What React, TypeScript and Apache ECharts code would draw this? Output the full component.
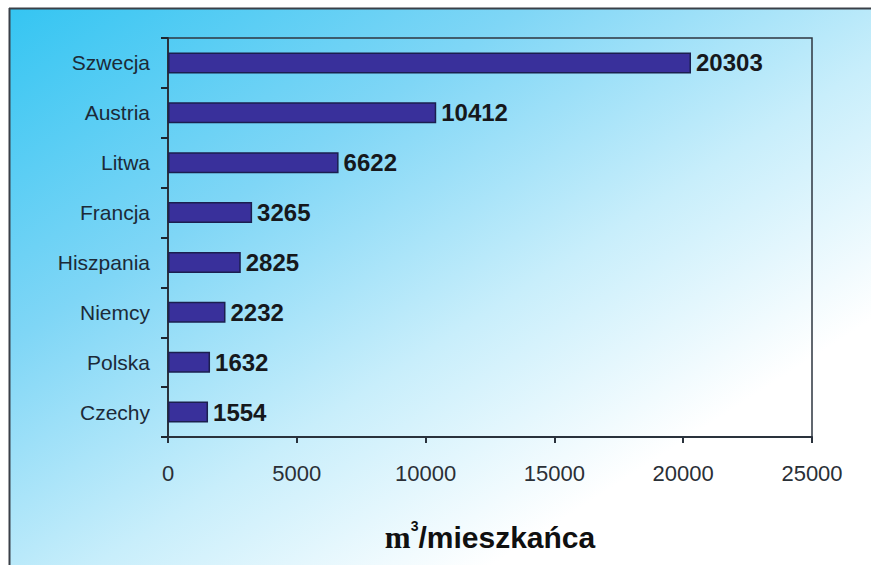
import React, { useEffect, useRef } from "react";
import * as echarts from "echarts";

const categories = ["Szwecja", "Austria", "Litwa", "Francja", "Hiszpania", "Niemcy", "Polska", "Czechy"];
const values = [20303, 10412, 6622, 3265, 2825, 2232, 1632, 1554];
const xTicks = [0, 5000, 10000, 15000, 20000, 25000];

export default function App() {
  const ref = useRef<HTMLDivElement>(null);
  useEffect(() => {
    if (!ref.current) return;
    const chart = echarts.init(ref.current, null, { renderer: "svg" });
    chart.setOption({
      animation: false,
      backgroundColor: "#ffffff",
      graphic: [
        {
          type: "rect",
          z: -10,
          silent: true,
          shape: { x: 10, y: 9, width: 861, height: 556 },
          style: {
            fill: new echarts.graphic.LinearGradient(0, 0, 1, 1, [
              { offset: 0, color: "#35c5f2" },
              { offset: 0.3, color: "#7fd6f6" },
              { offset: 0.55, color: "#c8eefb" },
              { offset: 0.78, color: "#ffffff" },
              { offset: 1, color: "#ffffff" },
            ]),
          },
        },
        {
          type: "line",
          z: 10,
          silent: true,
          shape: { x1: 9, y1: 8.5, x2: 871, y2: 8.5 },
          style: { stroke: "#3a4048", lineWidth: 2 },
        },
        {
          type: "line",
          z: 10,
          silent: true,
          shape: { x1: 9.5, y1: 8, x2: 9.5, y2: 565 },
          style: { stroke: "#3a4048", lineWidth: 2 },
        },
      ],
      grid: {
        left: 168,
        top: 38,
        right: 59,
        bottom: 128,
        show: true,
        borderColor: "#2e3640",
        borderWidth: 1.5,
        backgroundColor: "transparent",
      },
      xAxis: {
        type: "value",
        min: xTicks[0],
        max: xTicks[xTicks.length - 1],
        interval: xTicks[1] - xTicks[0],
        splitLine: { show: false },
        axisLine: { show: true, lineStyle: { color: "#2a323c", width: 2 } },
        axisTick: { show: true, length: 6, lineStyle: { color: "#2a323c", width: 2 } },
        axisLabel: {
          margin: 25,
          fontSize: 22,
          fontFamily: "Liberation Sans, Arial, sans-serif",
          color: "#2a2f36",
          formatter: (v: number) => String(v),
        },
        name: "{m|m}{sup|3}{rest|/mieszkańca}",
        nameLocation: "middle",
        nameGap: 82,
        nameTextStyle: {
          rich: {
            m: {
              fontSize: 31,
              fontWeight: "bold",
              fontFamily: "Liberation Serif, Times New Roman, serif",
              color: "#101010",
            },
            sup: {
              fontSize: 14,
              fontWeight: "bold",
              fontFamily: "Liberation Sans, Arial, sans-serif",
              color: "#101010",
              padding: [0, 0, 22, 0],
            },
            rest: {
              fontSize: 30,
              fontWeight: "bold",
              fontFamily: "Liberation Sans, Arial, sans-serif",
              color: "#101010",
            },
          },
        },
      },
      yAxis: {
        type: "category",
        data: categories,
        inverse: true,
        position: "left",
        axisLine: { show: true, lineStyle: { color: "#2a323c", width: 2 } },
        axisTick: { show: true, length: 7, lineStyle: { color: "#1e252e", width: 2 } },
        axisLabel: {
          margin: 18,
          fontSize: 21,
          fontFamily: "Liberation Sans, Arial, sans-serif",
          color: "#1c2a38",
        },
      },
      series: [
        {
          type: "bar",
          data: values,
          barWidth: 21,
          itemStyle: { color: "#39309b", borderColor: "#1b1f4f", borderWidth: 1.5 },
          label: {
            show: true,
            position: "right",
            distance: 5,
            fontSize: 24,
            fontWeight: "bold",
            fontFamily: "Liberation Sans, Arial, sans-serif",
            color: "#16181c",
          },
        },
      ],
    });
    return () => chart.dispose();
  }, []);
  return (
    <div
      ref={ref}
      style={{ position: "absolute", left: 0, top: 0, width: 871, height: 565 }}
    />
  );
}
